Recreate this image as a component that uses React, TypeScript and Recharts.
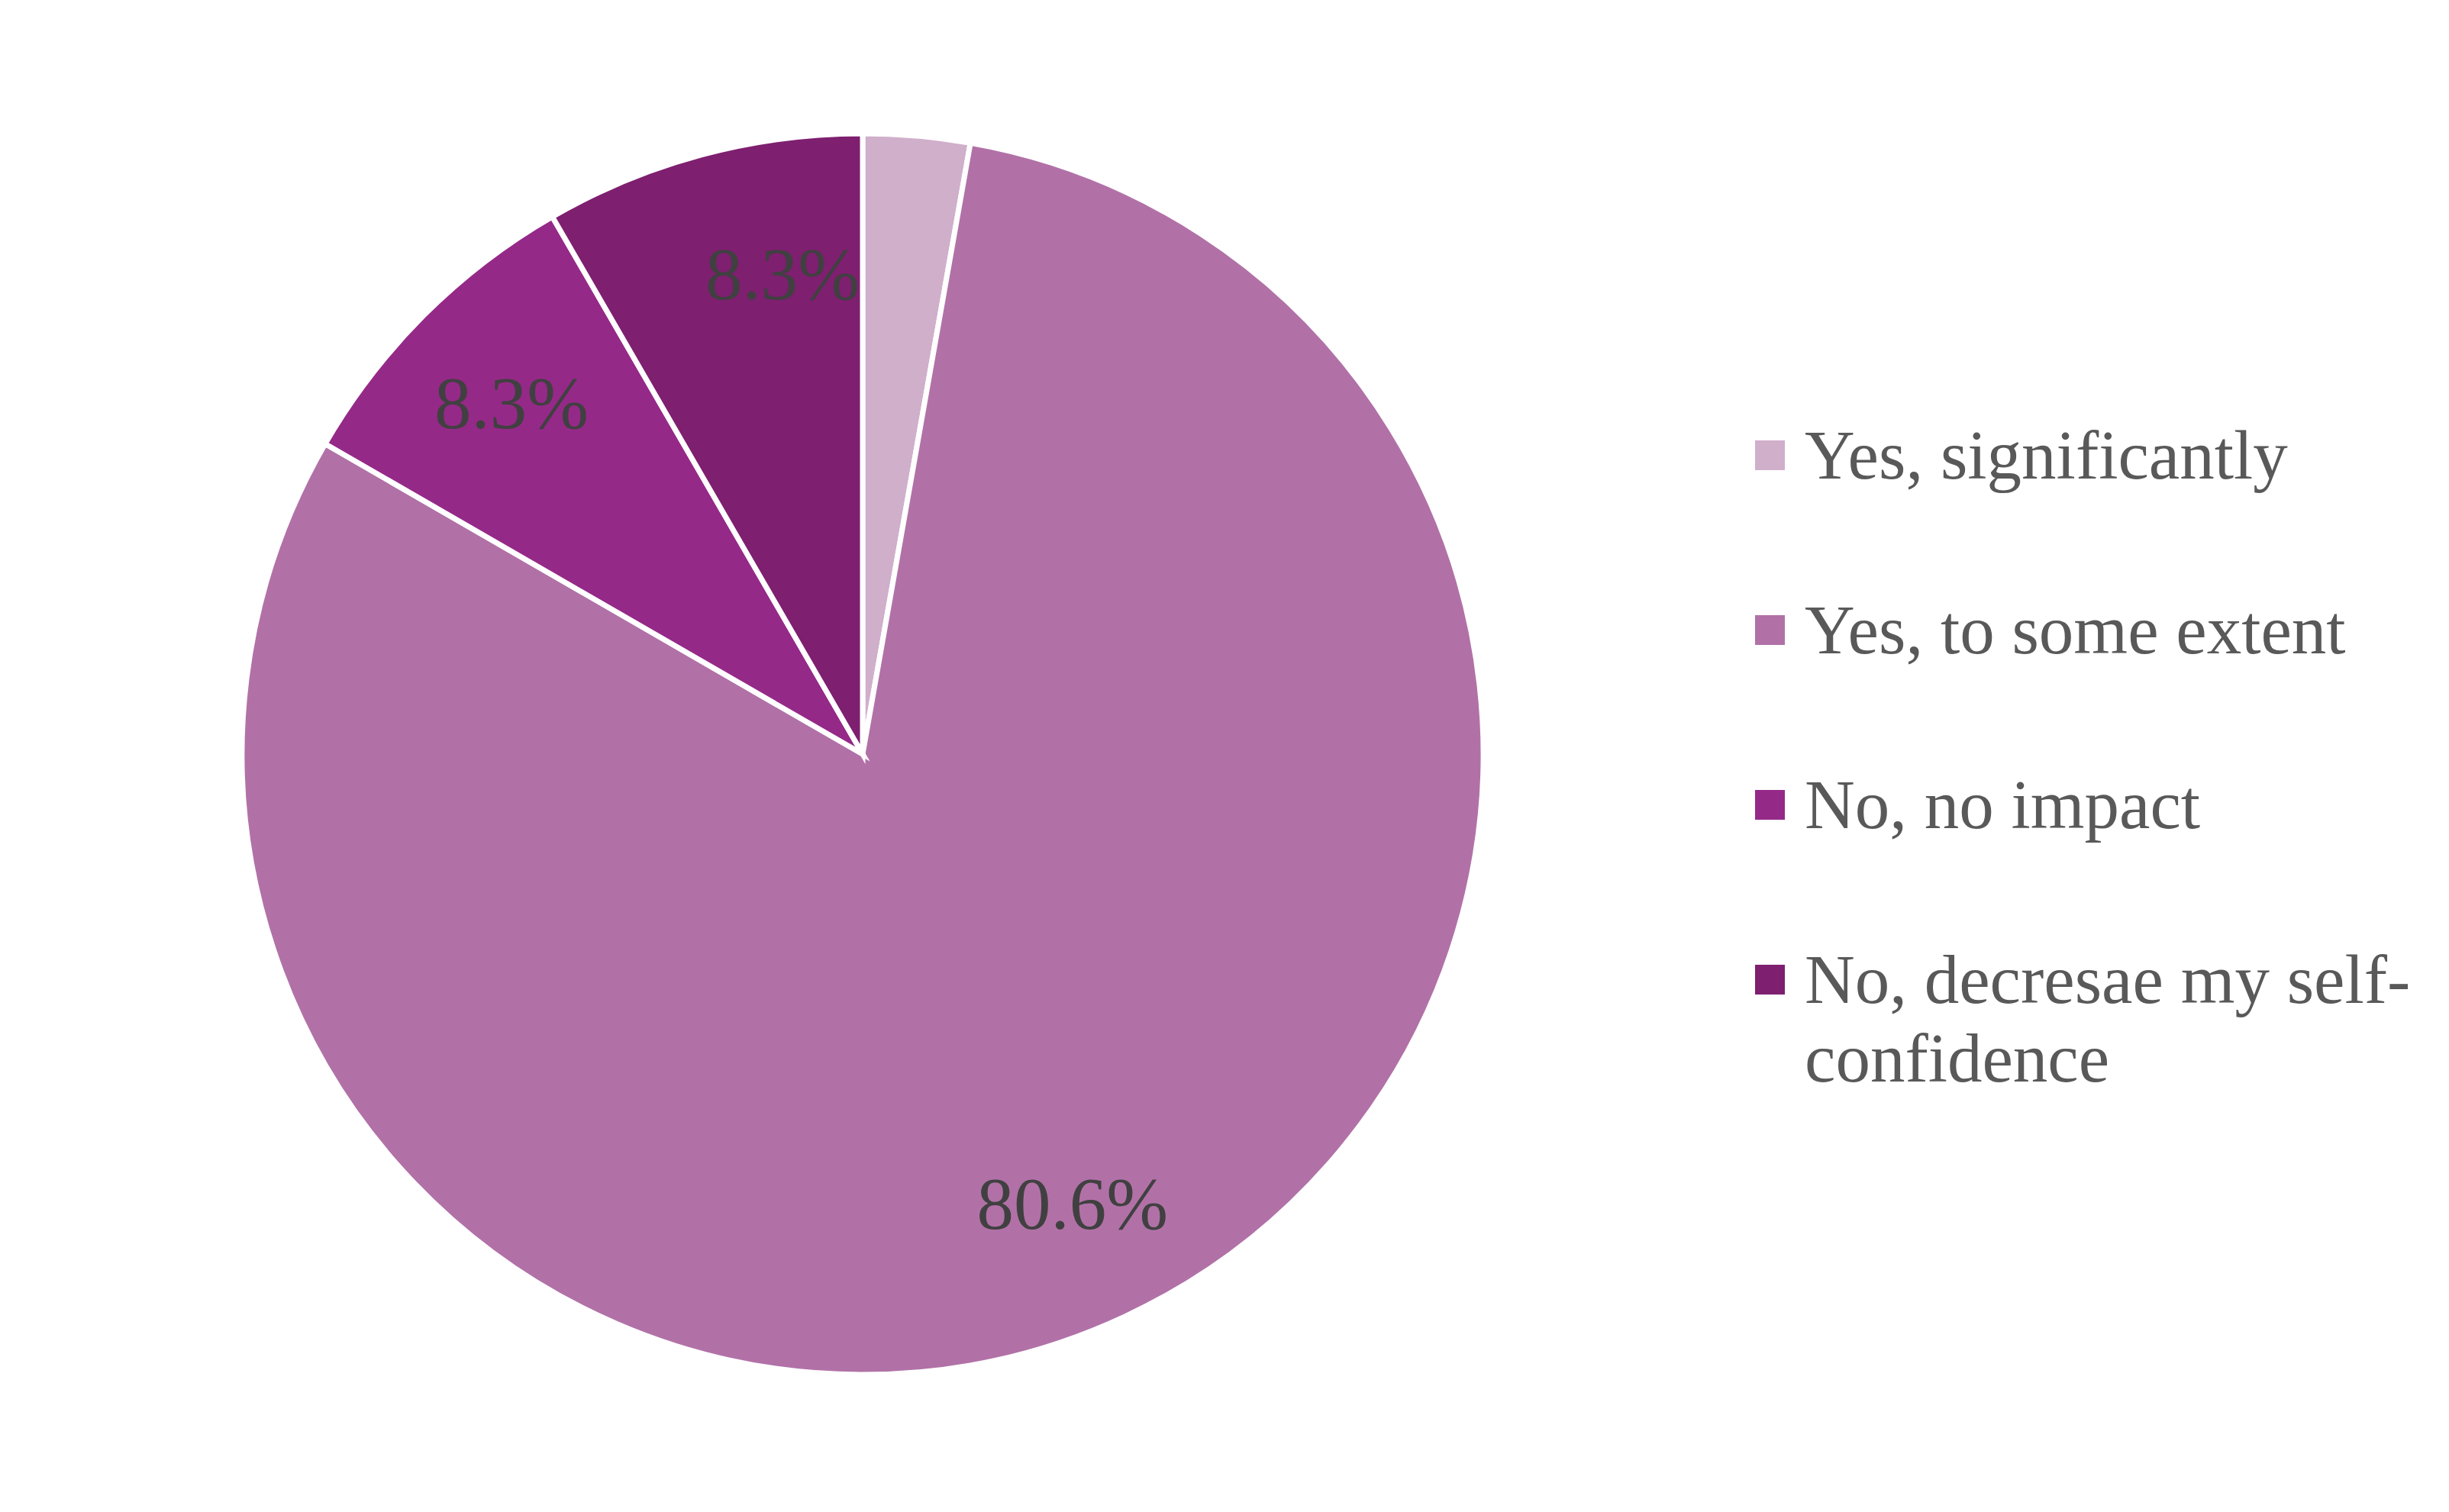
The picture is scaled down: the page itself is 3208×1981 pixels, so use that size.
import React from "react";
import { PieChart, Pie, Cell, Legend } from "recharts";

const categories = [
  "Yes, significantly",
  "Yes, to some extent",
  "No, no impact",
  "No, decresae my self-confidence",
];
const counts = [1, 29, 3, 3];
const colors = ["#D0AFCB", "#B171A7", "#952988", "#7E1F70"];

const data = categories.map((name, i) => ({ name, value: counts[i] }));

const FONT = '"Liberation Serif", "Times New Roman", serif';
const LABEL_SIZE = 97;
const RAD = Math.PI / 180;

const charW = (c: string) => (c === "." ? 0.25 : c === "%" ? 0.833 : 0.5);

const renderLabel = (props: any) => {
  const { cx, cy, midAngle, outerRadius, percent, startAngle, endAngle } = props;
  if (percent < 0.05) return null;
  const text = (percent * 100).toFixed(1) + "%";
  const r = outerRadius * 0.8;
  let x = cx + r * Math.cos(-midAngle * RAD);
  const y = cy + r * Math.sin(-midAngle * RAD);
  const w = text.split("").reduce((s, c) => s + charW(c), 0) * LABEL_SIZE;
  const norm = (a: number) => ((a % 360) + 360) % 360;
  const lo = Math.min(startAngle, endAngle);
  const hi = Math.max(startAngle, endAngle);
  const n1 = norm(lo);
  const n2 = norm(hi);
  const isTop = (a: number) => Math.abs(a - 90) < 0.01;
  // narrow slice bordering the vertical line on its left side: push label against that edge
  if (
    hi - lo < 45 &&
    ((isTop(n1) && n2 > 90 && n2 <= 180) || (isTop(n2) && n1 > 90 && n1 <= 180))
  ) {
    x = cx - 4 - w / 2;
  }
  return (
    <text
      x={x}
      y={y}
      fill="#404040"
      fontFamily={FONT}
      fontSize={LABEL_SIZE}
      textAnchor="middle"
      dominantBaseline="central"
    >
      {text}
    </text>
  );
};

const renderLegend = (props: any) => {
  const payload = props.payload || [];
  return (
    <div style={{ fontFamily: FONT }}>
      {categories.map((name, i) => {
        const p = payload.find((e: any) => e.value === name);
        const color = colors[i] || (p && p.color);
        return (
          <div
            key={name}
            style={{
              display: "flex",
              alignItems: "flex-start",
              height: 229,
            }}
          >
            <div
              style={{
                width: 39,
                height: 39,
                background: color,
                marginTop: 32,
                flexShrink: 0,
              }}
            />
            <div
              style={{
                marginLeft: 26,
                fontSize: 91,
                lineHeight: "103px",
                color: "#595959",
                width: 830,
              }}
            >
              {name}
            </div>
          </div>
        );
      })}
    </div>
  );
};

export default function App() {
  return (
    <div style={{ width: 3192, height: 1965, background: "#ffffff" }}>
      <PieChart width={3192} height={1965} margin={{ top: 0, right: 0, bottom: 0, left: 0 }}>
        <Pie
          data={data}
          dataKey="value"
          nameKey="name"
          cx={1122}
          cy={980}
          outerRadius={813}
          startAngle={90}
          endAngle={-270}
          stroke="#ffffff"
          strokeWidth={7}
          label={renderLabel}
          labelLine={false}
          isAnimationActive={false}
        >
          {data.map((d, i) => (
            <Cell key={d.name} fill={colors[i]} />
          ))}
        </Pie>
        <Legend
          layout="vertical"
          align="right"
          verticalAlign="top"
          content={renderLegend}
          wrapperStyle={{ left: 2291, top: 537, width: 900, right: "auto" }}
        />
      </PieChart>
    </div>
  );
}
